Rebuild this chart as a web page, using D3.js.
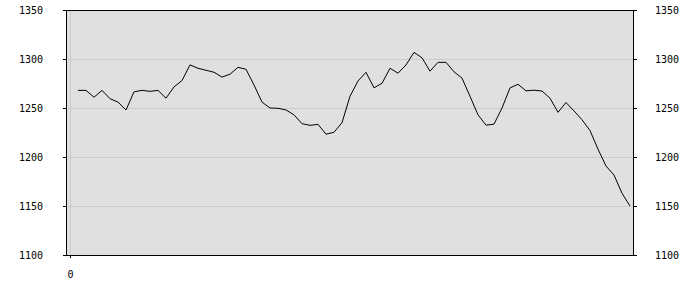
<!DOCTYPE html>
<html>
<head>
<meta charset="utf-8">
<script src="https://cdn.jsdelivr.net/npm/d3@7"></script>
<style>
  body { margin: 0; background: #fff; }
  text { font-family: "DejaVu Sans Mono", monospace; font-size: 10px; fill: #000; }
</style>
</head>
<body>
<script>
// series (x = index)
var idx = d3.range(1, 71);
var vals = [1268, 1268, 1261, 1268, 1259.5, 1256, 1248, 1266.5, 1268, 1267,
            1268, 1260, 1271.5, 1278, 1294, 1290.5, 1288.5, 1286.5, 1281.5, 1284.5,
            1291.5, 1289.5, 1273.5, 1256, 1250, 1249.7, 1248, 1243, 1234, 1232.3,
            1233.3, 1223.3, 1225.2, 1235, 1262, 1277.6, 1286.4, 1270.6, 1275.2, 1290.5,
            1285.5, 1293.9, 1306.8, 1301.2, 1287.6, 1296.6, 1296.6, 1287, 1280.5, 1262,
            1243, 1232.5, 1233.5, 1250, 1270.5, 1274.2, 1267.5, 1268.2, 1267.3, 1260,
            1245.6, 1255.6, 1247, 1238, 1227, 1208, 1190.8, 1181.6, 1163, 1150];
var yTicks = [1100, 1150, 1200, 1250, 1300, 1350];
var xTicks = [0];

var W = 700, H = 300;
var pLeft = 66, pRight = 634, pTop = 10, pBottom = 255;

var svg = d3.select("body").append("svg")
    .attr("width", W).attr("height", H);

var x = d3.scaleLinear().domain([-0.5, 70.5]).range([pLeft, pRight]);
var y = d3.scaleLinear().domain([1100, 1350]).range([pBottom, pTop]);

// plot background
svg.append("rect")
    .attr("x", pLeft).attr("y", pTop)
    .attr("width", pRight - pLeft).attr("height", pBottom - pTop)
    .attr("fill", "#e0e0e0");

// grid
svg.selectAll("line.hgrid").data(yTicks.slice(1, -1)).enter().append("line")
    .attr("class", "hgrid")
    .attr("x1", pLeft).attr("x2", pRight)
    .attr("y1", function(d) { return Math.round(y(d)) + 0.5; })
    .attr("y2", function(d) { return Math.round(y(d)) + 0.5; })
    .attr("stroke", "#cbcbcb").attr("stroke-width", 1);

svg.selectAll("line.vgrid").data(xTicks).enter().append("line")
    .attr("class", "vgrid")
    .attr("x1", function(d) { return Math.round(x(d)) + 0.5; })
    .attr("x2", function(d) { return Math.round(x(d)) + 0.5; })
    .attr("y1", pTop).attr("y2", pBottom)
    .attr("stroke", "#cbcbcb").attr("stroke-width", 1);

// the series
var line = d3.line()
    .x(function(d, i) { return x(idx[i]); })
    .y(function(d) { return y(d); });

svg.append("path")
    .datum(vals)
    .attr("d", line)
    .attr("fill", "none")
    .attr("stroke", "#000").attr("stroke-width", 1);

// axes
var yl = d3.axisLeft(y).tickValues(yTicks).tickSize(3).tickPadding(20).tickFormat(d3.format("d"));
var yr = d3.axisRight(y).tickValues(yTicks).tickSize(3).tickPadding(18).tickFormat(d3.format("d"));
var xb = d3.axisBottom(x).tickValues(xTicks).tickSize(3).tickPadding(13).tickFormat(d3.format("d"));

function styleAxis(g) {
    g.select(".domain").remove();
    g.selectAll("line").attr("stroke", "#000");
    g.selectAll("text").attr("font-family", "DejaVu Sans Mono").attr("font-size", 10);
}

svg.append("g").attr("transform", "translate(" + pLeft + ",0)").call(yl).call(styleAxis);
svg.append("g").attr("transform", "translate(" + pRight + ",0)").call(yr).call(styleAxis);
svg.append("g").attr("transform", "translate(0," + pBottom + ")").call(xb).call(styleAxis);

// frame
svg.append("rect")
    .attr("x", pLeft + 0.5).attr("y", pTop + 0.5)
    .attr("width", pRight - pLeft - 1).attr("height", pBottom - pTop)
    .attr("fill", "none").attr("stroke", "#000").attr("stroke-width", 1);
</script>
</body>
</html>
